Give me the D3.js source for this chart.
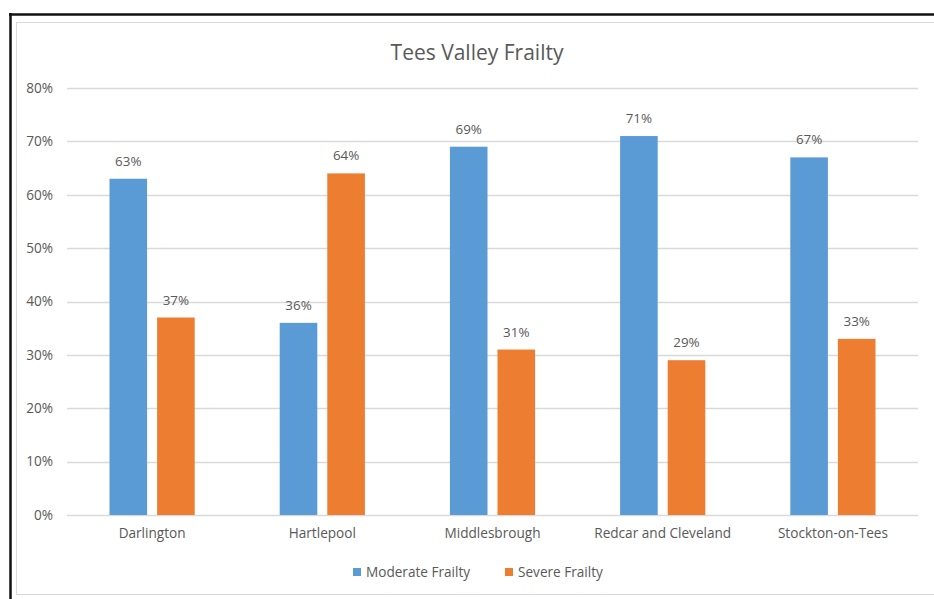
<!DOCTYPE html>
<html>
<head>
<meta charset="utf-8">
<script src="https://cdn.jsdelivr.net/npm/d3@7"></script>
<style>
  html, body { margin: 0; padding: 0; background: #fff; }
  svg { display: block; font-family: "Open Sans", "Noto Sans", sans-serif; }
</style>
</head>
<body>
<svg id="chart" width="934" height="599"></svg>
<script>
// Tees Valley frailty shares by local authority
const categories = ["Darlington", "Hartlepool", "Middlesbrough", "Redcar and Cleveland", "Stockton-on-Tees"];
const moderateFrailty = [63, 36, 69, 71, 67];
const severeFrailty = [37, 64, 31, 29, 33];
const seriesNames = ["Moderate Frailty", "Severe Frailty"];
const seriesColors = ["#5B9BD5", "#ED7D31"];
const yTicks = [0, 10, 20, 30, 40, 50, 60, 70, 80];

const svg = d3.select("#chart");
const textColor = "#595959";
const labelSize = "13.6px";

// outer frame: dark rule on top/left, light inner border
svg.append("line").attr("x1", 10.5).attr("x2", 10.5).attr("y1", 13).attr("y2", 599)
  .attr("stroke", "#111").attr("stroke-width", 2.5);
svg.append("line").attr("x1", 9).attr("x2", 934).attr("y1", 14.5).attr("y2", 14.5)
  .attr("stroke", "#111").attr("stroke-width", 2.5);
svg.append("rect").attr("x", 16.5).attr("y", 22.5).attr("width", 930).attr("height", 572)
  .attr("fill", "none").attr("stroke", "#d9d9d9").attr("stroke-width", 1);

const plot = { left: 67, right: 918, top: 88, bottom: 515 };

const x0 = d3.scaleBand().domain(categories).range([plot.left, plot.right]).paddingInner(0).paddingOuter(0);
const groupWidth = 85.2;
const x1 = d3.scaleBand().domain(seriesNames)
  .range([-groupWidth / 2, groupWidth / 2]).paddingInner(0.21);
const y = d3.scaleLinear().domain([0, 80]).range([plot.bottom, plot.top]);

// horizontal gridlines
svg.append("g").selectAll("line").data(yTicks).join("line")
  .attr("x1", plot.left).attr("x2", plot.right)
  .attr("y1", d => Math.round(y(d)) + 0.5).attr("y2", d => Math.round(y(d)) + 0.5)
  .attr("stroke", "#d9d9d9").attr("stroke-width", 1.3);

// y axis labels
const yAxis = d3.axisLeft(y).tickValues(yTicks).tickFormat(d => d + "%").tickSize(0).tickPadding(0);
const yg = svg.append("g").attr("transform", `translate(${plot.left - 14},0)`).call(yAxis);
yg.select(".domain").remove();
yg.selectAll("text").attr("fill", textColor).style("font-size", labelSize)
  .style("font-family", '"Open Sans", sans-serif');

// x axis category labels
const xAxis = d3.axisBottom(x0).tickSize(0).tickPadding(0);
const xg = svg.append("g").attr("transform", `translate(0,${plot.bottom + 13})`).call(xAxis);
xg.select(".domain").remove();
xg.selectAll("text").attr("fill", textColor).style("font-size", labelSize)
  .style("font-family", '"Open Sans", sans-serif');

const rows = categories.map((c, i) => ({
  category: c,
  values: [moderateFrailty[i], severeFrailty[i]]
}));

const groups = svg.append("g").selectAll("g").data(rows).join("g")
  .attr("transform", d => `translate(${x0(d.category) + x0.bandwidth() / 2},0)`);

const items = d => d.values.map((v, j) => ({ series: seriesNames[j], color: seriesColors[j], value: v }));

groups.selectAll("rect").data(items).join("rect")
  .attr("x", d => x1(d.series))
  .attr("width", x1.bandwidth())
  .attr("y", d => y(d.value))
  .attr("height", d => y(0) - y(d.value))
  .attr("fill", d => d.color);

groups.selectAll("text.val").data(items).join("text")
  .attr("class", "val")
  .attr("x", d => x1(d.series) + x1.bandwidth() / 2)
  .attr("y", d => y(d.value) - 13)
  .attr("text-anchor", "middle")
  .attr("fill", textColor)
  .style("font-size", "13.4px")
  .text(d => d.value + "%");

// title
svg.append("text").attr("x", 477).attr("y", 60).attr("text-anchor", "middle")
  .attr("fill", textColor).style("font-size", "21px").text("Tees Valley Frailty");

// legend
const legend = svg.append("g").attr("transform", "translate(353,572)");
const legendOffsets = [0, 152];
seriesNames.forEach((name, i) => {
  const g = legend.append("g").attr("transform", `translate(${legendOffsets[i]},0)`);
  g.append("rect").attr("x", 0).attr("y", -4).attr("width", 8).attr("height", 8).attr("fill", seriesColors[i]);
  g.append("text").attr("x", 13).attr("y", 5).attr("fill", textColor)
    .style("font-size", labelSize).text(name);
});
</script>
</body>
</html>
